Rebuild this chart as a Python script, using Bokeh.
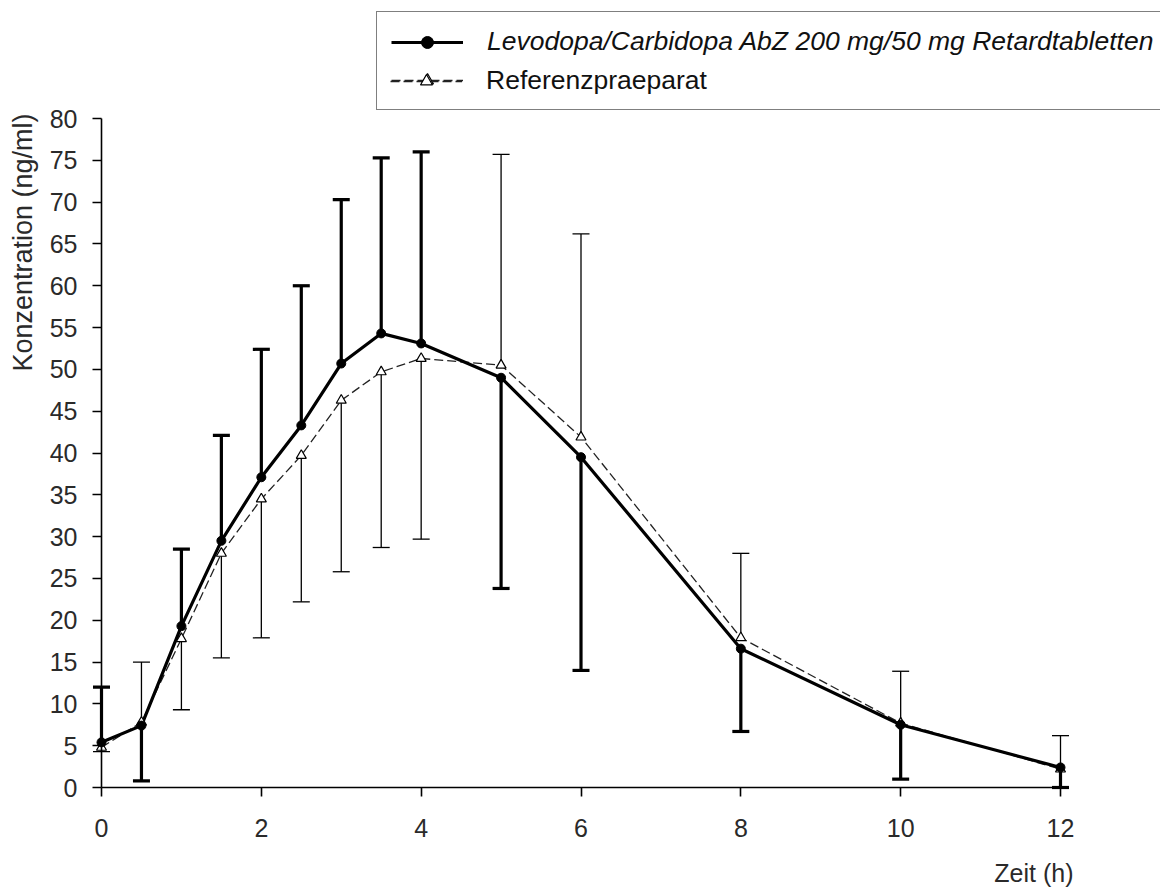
import math
from bokeh.plotting import figure
from bokeh.models import Range1d, FixedTicker, Legend, LegendItem, Label, ColumnDataSource
from bokeh.embed import file_html
from bokeh.resources import INLINE
from bokeh.core.properties import value

# ---------------- data ----------------
time_h = [0, 0.5, 1, 1.5, 2, 2.5, 3, 3.5, 4, 5, 6, 8, 10, 12]

test_mean = [5.4, 7.4, 19.3, 29.5, 37.1, 43.3, 50.7, 54.3, 53.1, 49.0, 39.5, 16.6, 7.5, 2.4]
test_sd = [6.6, 6.6, 9.2, 12.6, 15.3, 16.7, 19.6, 21.0, 22.9, 25.2, 25.5, 9.9, 6.5, 2.4]
test_bar_dir = [1, -1, 1, 1, 1, 1, 1, 1, 1, -1, -1, -1, -1, -1]

ref_mean = [4.8, 7.8, 17.8, 28.0, 34.5, 39.7, 46.3, 49.7, 51.3, 50.5, 41.9, 17.9, 7.7, 2.2]
ref_sd = [0.5, 7.2, 8.5, 12.5, 16.6, 17.5, 20.5, 21.0, 21.6, 25.2, 24.3, 10.1, 6.2, 4.0]
ref_bar_dir = [-1, 1, -1, -1, -1, -1, -1, -1, -1, 1, 1, 1, 1, 1]

x_ticks = [0, 2, 4, 6, 8, 10, 12]
y_ticks = [0, 5, 10, 15, 20, 25, 30, 35, 40, 45, 50, 55, 60, 65, 70, 75, 80]

legend_labels = ["Levodopa/Carbidopa AbZ 200 mg/50 mg Retardtabletten", "Referenzpraeparat"]
x_label = "Zeit (h)"
y_label = "Konzentration (ng/ml)"

# ---------------- geometry ----------------
W, H = 1160, 890
X0_PX, X12_PX = 101, 1060     # canvas px of x=0 and x=12
Y0_PX, Y80_PX = 787, 118      # canvas px of y=0 and y=80
xs = (X12_PX - X0_PX) / 12.0
ys = (Y0_PX - Y80_PX) / 80.0
x_range = Range1d(-X0_PX / xs, (W - X0_PX) / xs)
y_range = Range1d(-(H - Y0_PX) / ys, Y0_PX / ys)

FONT = "Liberation Sans"
INK = "#111111"
GREY_INK = "#2a2a2a"

p = figure(width=W, height=H, x_range=x_range, y_range=y_range,
           output_backend="svg", toolbar_location=None, title=None,
           min_border=0, outline_line_color=None,
           background_fill_color="white", border_fill_color="white")
p.grid.grid_line_color = None

for ax, ticks, bnds in ((p.xaxis, x_ticks, (0, 12)), (p.yaxis, y_ticks, (0, 80))):
    ax.fixed_location = 0
    ax.bounds = bnds
    ax.ticker = FixedTicker(ticks=ticks)
    ax.axis_line_color = "black"
    ax.axis_line_width = 1.6
    ax.major_tick_line_color = "black"
    ax.major_tick_line_width = 1.6
    ax.major_tick_in = 0
    ax.major_tick_out = 9
    ax.minor_tick_in = 0
    ax.minor_tick_out = 0
    ax.major_label_text_font = FONT
    ax.major_label_text_font_size = "25px"
    ax.major_label_text_color = GREY_INK
p.xaxis.major_label_standoff = 22
p.yaxis.major_label_standoff = 15

# ---------------- error bars ----------------
test_end = [m + d * s for m, s, d in zip(test_mean, test_sd, test_bar_dir)]
ref_end = [m + d * s for m, s, d in zip(ref_mean, ref_sd, ref_bar_dir)]

src = ColumnDataSource(dict(t=time_h, test=test_mean, test_end=test_end,
                            ref=ref_mean, ref_end=ref_end))

p.segment(x0="t", y0="ref", x1="t", y1="ref_end", source=src, line_color="black", line_width=1.3)
p.scatter(x="t", y="ref_end", source=src, marker="dash", size=17, line_color="black", line_width=1.3)
p.segment(x0="t", y0="test", x1="t", y1="test_end", source=src, line_color="black", line_width=3.2)
p.scatter(x="t", y="test_end", source=src, marker="dash", size=17, line_color="black", line_width=3.2)

# ---------------- series ----------------
ref_line = p.line(x="t", y="ref", source=src, line_color="#222222", line_width=1.3, line_dash="9 4")
test_line = p.line(x="t", y="test", source=src, line_color="black", line_width=3.2)
ref_pts = p.scatter(x="t", y="ref", source=src, marker="triangle", size=10,
                    fill_color="white", line_color="black", line_width=1.2)
test_pts = p.scatter(x="t", y="test", source=src, marker="circle", size=9,
                     fill_color="black", line_color="black")

# ---------------- legend (framed box; row 1 italic, row 2 upright) ----------------
PAD, ROW, SPACING = 14, 30, 8
LEG_LEFT, LEG_TOP = 376, 14
GLYPH_W, STANDOFF = 72, 24
LEG_H = 2 * PAD + 2 * ROW + SPACING
LEG_FONT_SIZE = "26.5px"
common = dict(orientation="vertical", spacing=SPACING, margin=0,
              glyph_width=GLYPH_W, glyph_height=ROW, label_height=ROW,
              label_standoff=STANDOFF, label_text_font=FONT,
              label_text_font_size=LEG_FONT_SIZE, label_text_color=INK,
              label_text_baseline="middle")

legend_box = Legend(
    items=[LegendItem(label=value(legend_labels[0]), renderers=[test_line, test_pts]),
           LegendItem(label=value(" "), renderers=[ref_line, ref_pts])],
    location=(LEG_LEFT, H - (LEG_TOP + LEG_H)), padding=PAD,
    label_width=W - 2 - LEG_LEFT - 2 * PAD - GLYPH_W - STANDOFF,
    label_text_font_style="italic",
    border_line_color="black", border_line_width=1.2,
    background_fill_color="white", background_fill_alpha=1.0, **common)
p.add_layout(legend_box, "center")

row2_top = LEG_TOP + PAD + ROW + SPACING
legend_row2 = Legend(
    items=[LegendItem(label=value(legend_labels[1]), renderers=[ref_line, ref_pts])],
    location=(LEG_LEFT + PAD, H - (row2_top + ROW)), padding=0,
    label_text_font_style="normal",
    border_line_color=None, background_fill_alpha=0.0, **common)
p.add_layout(legend_row2, "center")

# ---------------- axis titles ----------------
p.add_layout(Label(x=22, y=H - 242, x_units="screen", y_units="screen", text=y_label,
                   angle=math.pi / 2, text_font=FONT, text_font_size="27px", text_color=GREY_INK,
                   text_align="center", text_baseline="middle"))
p.add_layout(Label(x=1073, y=H - 872, x_units="screen", y_units="screen", text=x_label,
                   text_font=FONT, text_font_size="25px", text_color=GREY_INK,
                   text_align="right", text_baseline="middle"))

open("out.html", "w").write(file_html(p, INLINE))
